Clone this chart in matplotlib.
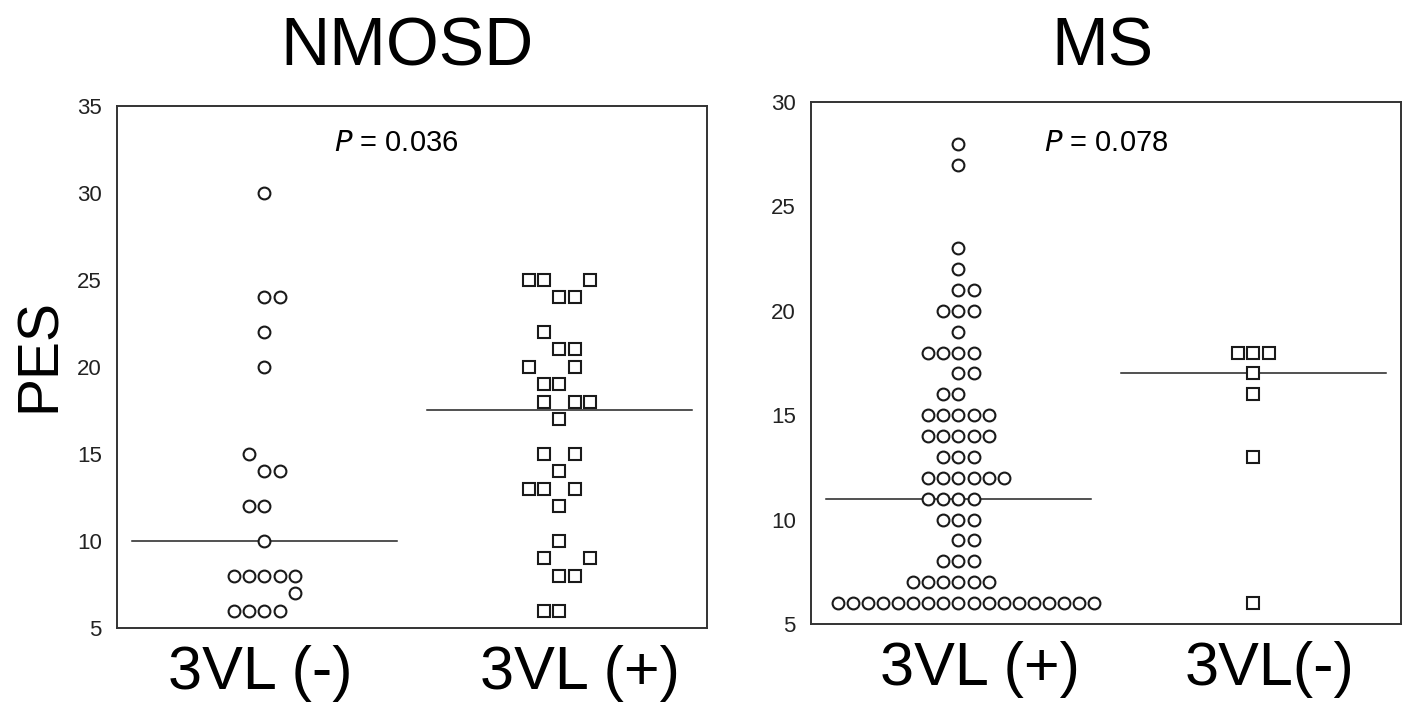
import numpy as np
import matplotlib

matplotlib.use("Agg")
import matplotlib.pyplot as plt

plt.rcParams["font.family"] = ["Liberation Sans", "DejaVu Sans"]

# NMOSD panel: PES per patient, with the slot (column) each dot sits in
nmosd_neg_vals = [30, 24, 24, 22, 20, 15, 14, 14, 12, 12, 10, 8, 8, 8, 8, 8, 7, 6, 6, 6, 6]
nmosd_neg_slots = [0, 0, 1, 0, 0, -1, 0, 1, -1, 0, 0, -2, -1, 0, 1, 2, 2, -2, -1, 0, 1]
nmosd_pos_vals = [25, 25, 25, 24, 24, 22, 21, 21, 20, 20, 19, 19, 18, 18, 18, 17,
                  15, 15, 14, 13, 13, 13, 12, 10, 9, 9, 8, 8, 6, 6]
nmosd_pos_slots = [-2, -1, 2, 0, 1, -1, 0, 1, -2, 1, -1, 0, -1, 1, 2, 0,
                   -1, 1, 0, -2, -1, 1, 0, 0, -1, 2, 0, 1, -1, 0]
nmosd_medians = [10, 17.5]
nmosd_labels = ["3VL (-)", "3VL (+)"]

# MS panel: rows of dots (value, how many, first slot)
ms_pos_rows = [28, 27, 23, 22, 21, 20, 19, 18, 17, 16, 15, 14, 13, 12, 11, 10, 9, 8, 7, 6]
ms_pos_counts = [1, 1, 1, 1, 2, 3, 1, 4, 2, 2, 5, 5, 3, 6, 4, 3, 2, 3, 6, 18]
ms_pos_first = [0, 0, 0, 0, 0, -1, 0, -2, 0, -1, -2, -2, -1, -2, -2, -1, 0, -1, -3, -8]
ms_neg_vals = [18, 18, 18, 17, 16, 13, 6]
ms_neg_slots = [-1, 0, 1, 0, 0, 0, 0]
ms_medians = [11, 17]
ms_labels = ["3VL (+)", "3VL(-)"]

p_values = ["0.036", "0.078"]

group_x = [0.5, 1.5]
slot_w = 0.051
half_line = 0.45


def expand_rows(rows, counts, first):
    vals = np.repeat(rows, counts)
    slots = np.concatenate([np.arange(f, f + c) for f, c in zip(first, counts)])
    return vals, slots


def style_axes(ax, ylim, yticks, tick_pos, labels):
    ax.set_xlim(0, 2)
    ax.set_ylim(*ylim)
    ax.set_yticks(yticks)
    ax.set_xticks(tick_pos)
    ax.set_xticklabels(labels, fontsize=44)
    ax.tick_params(axis="y", length=0, pad=11, labelsize=16, colors="#222222")
    ax.tick_params(axis="x", length=0, pad=12, colors="black")
    for s in ax.spines.values():
        s.set_linewidth(1.4)
        s.set_color("#333333")


def draw_group(ax, gx, vals, slots, marker, med):
    xs = gx + np.asarray(slots) * slot_w
    ax.plot(xs, vals, linestyle="none", marker=marker, markersize=8.5,
            markerfacecolor="white", markeredgecolor="#1a1a1a", markeredgewidth=1.5, zorder=3)
    ax.plot([gx - half_line, gx + half_line], [med, med], color="#222222", linewidth=1.1, zorder=2)


fig = plt.figure(figsize=(14.08, 7.05), dpi=100)
ax1 = fig.add_axes([0.0831, 0.1092, 0.419, 0.741])
ax2 = fig.add_axes([0.576, 0.1149, 0.419, 0.7404])

draw_group(ax1, group_x[0], nmosd_neg_vals, nmosd_neg_slots, "o", nmosd_medians[0])
draw_group(ax1, group_x[1], nmosd_pos_vals, nmosd_pos_slots, "s", nmosd_medians[1])
style_axes(ax1, (5, 35), np.arange(5, 36, 5), [0.485, 1.569], nmosd_labels)

ms_pos_vals, ms_pos_slots = expand_rows(ms_pos_rows, ms_pos_counts, ms_pos_first)
draw_group(ax2, group_x[0], ms_pos_vals, ms_pos_slots, "o", ms_medians[0])
draw_group(ax2, group_x[1], ms_neg_vals, ms_neg_slots, "s", ms_medians[1])
style_axes(ax2, (5, 30), np.arange(5, 31, 5), [0.573, 1.556], ms_labels)

ax1.text(0.473, 0.929, f"$\\it{{P}}$ = {p_values[0]}", transform=ax1.transAxes,
         ha="center", va="center", fontsize=21)
ax2.text(0.5, 0.921, f"$\\it{{P}}$ = {p_values[1]}", transform=ax2.transAxes,
         ha="center", va="center", fontsize=21)

fig.text(407 / 1408, 1 - 66 / 705, "NMOSD", ha="center", va="baseline", fontsize=49)
fig.text(1102 / 1408, 1 - 66 / 705, "MS", ha="center", va="baseline", fontsize=49)
fig.text(40 / 1408, 1 - 355 / 705, "PES", rotation=90, ha="center", va="center", fontsize=41)

fig.savefig("out.png", dpi=100)
